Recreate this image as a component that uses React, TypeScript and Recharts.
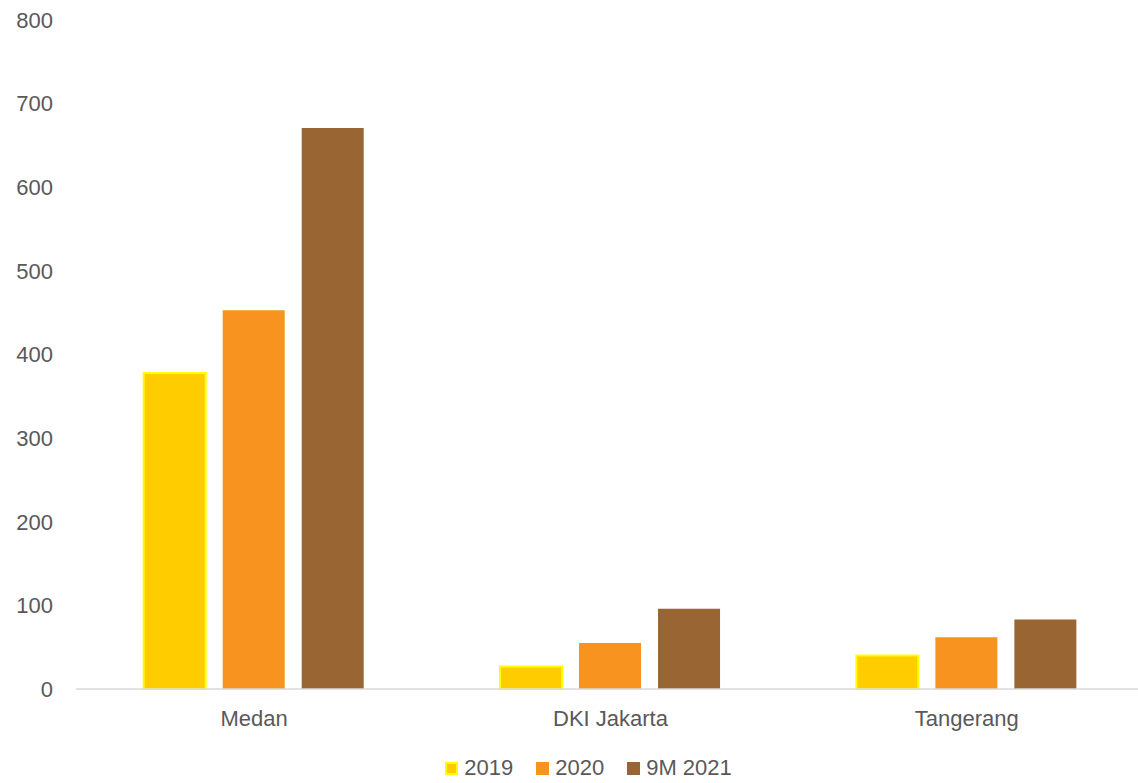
import React from "react";
import { BarChart, Bar, XAxis, YAxis, Legend } from "recharts";

const categories = ["Medan", "DKI Jakarta", "Tangerang"];
const values2019 = [378, 27, 40];
const values2020 = [453, 55, 62];
const values9M2021 = [671, 96, 83];
const yTicks = [0, 100, 200, 300, 400, 500, 600, 700, 800];

const seriesNames = ["2019", "2020", "9M 2021"];
const seriesKeys = ["y2019", "y2020", "y9m2021"];
const fills = ["#FFCC00", "#F7931E", "#996633"];
const strokes = ["#FFFF00", "none", "none"];

const data = categories.map((c, i) => ({
  name: c,
  y2019: values2019[i],
  y2020: values2020[i],
  y9m2021: values9M2021[i],
}));

const FONT = "'Liberation Sans', Arial, sans-serif";
const TEXT = "#595959";

const LegendContent = () => (
  <div
    style={{
      display: "flex",
      justifyContent: "center",
      alignItems: "center",
      height: 24,
      fontFamily: FONT,
      fontSize: 22,
      color: TEXT,
      paddingLeft: 32,
    }}
  >
    {seriesNames.map((n, i) => (
      <div key={n} style={{ display: "flex", alignItems: "center", marginRight: i < 2 ? 23 : 0 }}>
        <div
          style={{
            width: 13,
            height: 13,
            boxSizing: "border-box",
            background: fills[i],
            border: strokes[i] !== "none" ? `2px solid ${strokes[i]}` : "none",
            marginRight: 6,
          }}
        />
        <span>{n}</span>
      </div>
    ))}
  </div>
);

export default function App() {
  return (
    <div
      style={{
        position: "absolute",
        left: 0,
        top: 0,
        width: 1138,
        height: 783,
        overflow: "hidden",
        background: "#fff",
      }}
    >
      <BarChart
        width={1146}
        height={783}
        data={data}
        margin={{ top: 20, right: 1, bottom: 3, left: 0 }}
        barCategoryGap="19%"
        barGap={17}
      >
        <XAxis
          dataKey="name"
          axisLine={{ stroke: "#D9D9D9", strokeWidth: 1.5 }}
          tickLine={false}
          tickMargin={15}
          height={67}
          tick={{ fill: TEXT, fontSize: 22, fontFamily: FONT }}
        />
        <YAxis
          domain={[0, 800]}
          ticks={yTicks}
          width={76}
          axisLine={false}
          tickLine={false}
          tickMargin={17}
          tick={{ fill: TEXT, fontSize: 22, fontFamily: FONT }}
        />
        <Legend verticalAlign="bottom" content={<LegendContent />} />
        {seriesKeys.map((k, i) => (
          <Bar
            key={k}
            dataKey={k}
            name={seriesNames[i]}
            fill={fills[i]}
            stroke={strokes[i]}
            strokeWidth={strokes[i] !== "none" ? 2 : 0}
            isAnimationActive={false}
          />
        ))}
      </BarChart>
    </div>
  );
}
